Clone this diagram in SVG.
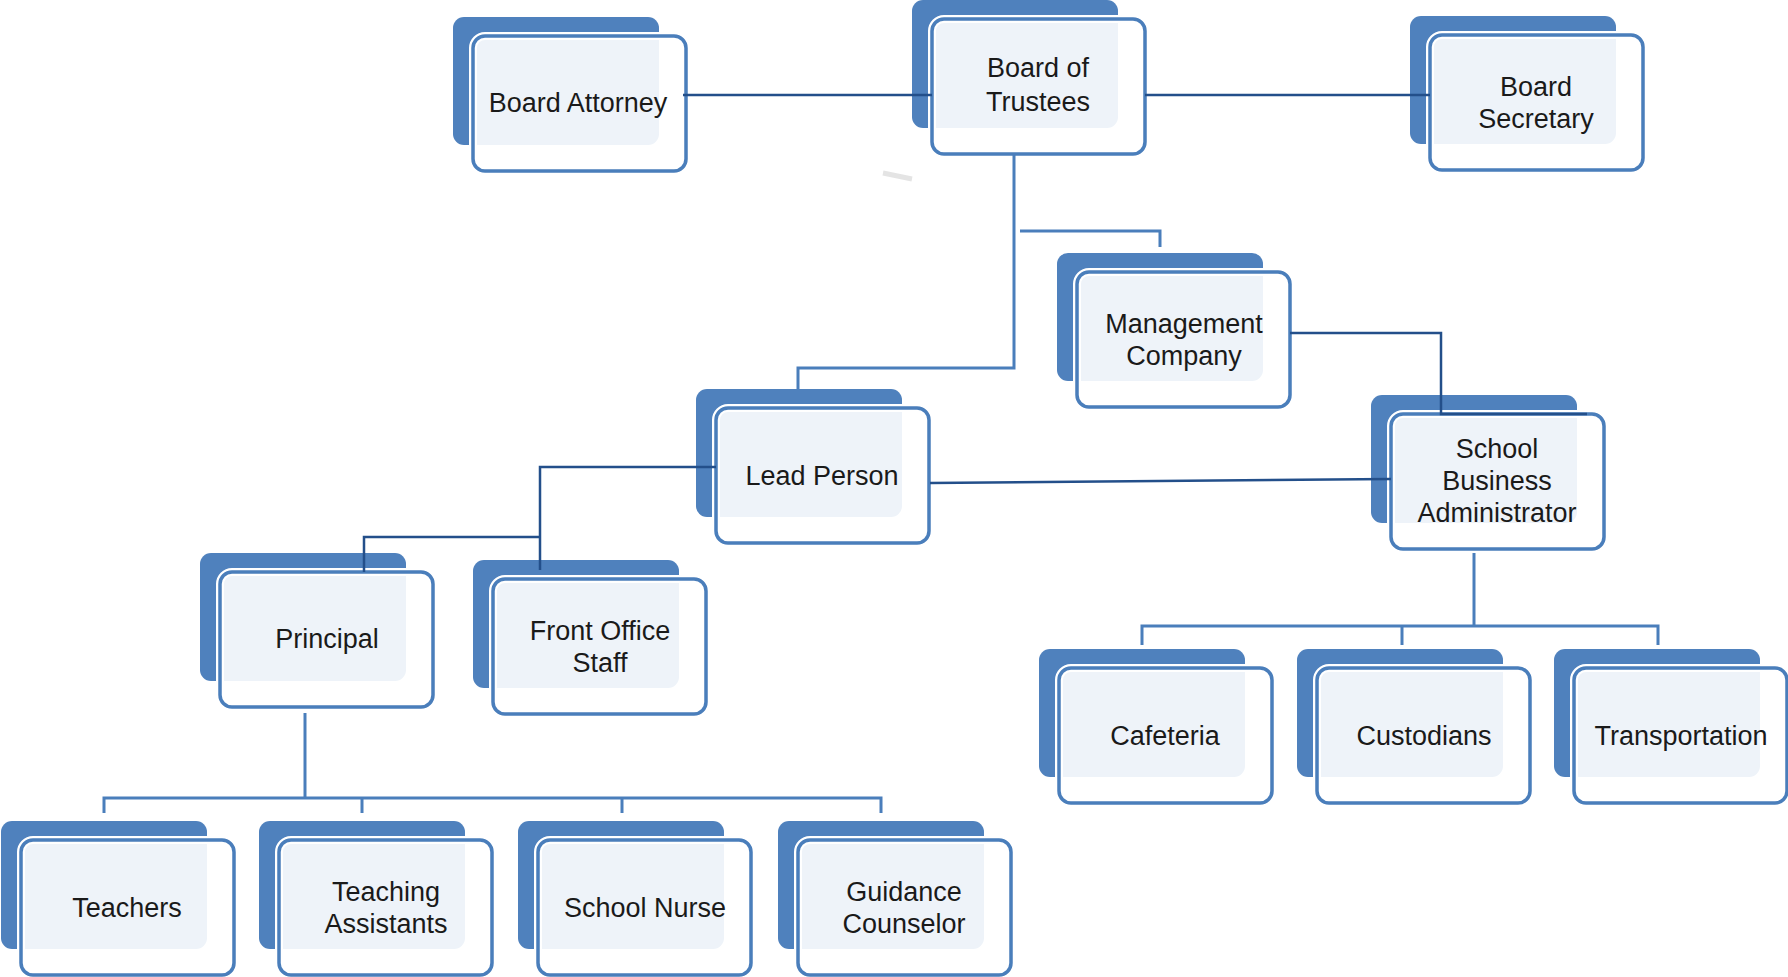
<svg xmlns="http://www.w3.org/2000/svg" width="1788" height="977" viewBox="0 0 1788 977">
<style>
.back{fill:#4f81bd}
.halo{fill:#ffffff;fill-opacity:0.9;stroke:#ffffff;stroke-width:8}
.front{fill:none;stroke:#4a7ebb;stroke-width:3.5}
.t{font-family:"Liberation Sans",Arial,sans-serif;font-size:27px;fill:#1a1a1a;text-anchor:middle}
.dark{fill:none;stroke:#234f8a;stroke-width:2.5}
.lite{fill:none;stroke:#4a7ebb;stroke-width:3}
</style>
<defs>
<g id="card">
<rect class="back" x="-20" y="-19" width="206" height="128" rx="11"/>
<rect class="halo" x="0" y="0" width="213" height="135" rx="12"/>
<rect class="front" x="0" y="0" width="213" height="135" rx="12"/>
</g>
</defs>
<rect width="1788" height="977" fill="#ffffff"/>
<line x1="883" y1="173" x2="912" y2="179" stroke="#e4e4e4" stroke-width="5"/>
<g id="n-attorney"><use href="#card" x="473" y="36"/><text class="t" x="578" y="112">Board Attorney</text></g>
<g id="n-trustees"><use href="#card" x="932" y="19"/><text class="t" x="1038" y="77">Board of</text><text class="t" x="1038" y="111">Trustees</text></g>
<g id="n-secretary"><use href="#card" x="1430" y="35"/><text class="t" x="1536" y="96">Board</text><text class="t" x="1536" y="128">Secretary</text></g>
<g id="n-management"><use href="#card" x="1077" y="272"/><text class="t" x="1184" y="333">Management</text><text class="t" x="1184" y="365">Company</text></g>
<g id="n-lead"><use href="#card" x="716" y="408"/><text class="t" x="822" y="485">Lead Person</text></g>
<g id="n-sba"><use href="#card" x="1391" y="414"/><text class="t" x="1497" y="458">School</text><text class="t" x="1497" y="490">Business</text><text class="t" x="1497" y="522">Administrator</text></g>
<g id="n-principal"><use href="#card" x="220" y="572"/><text class="t" x="327" y="648">Principal</text></g>
<g id="n-frontoffice"><use href="#card" x="493" y="579"/><text class="t" x="600" y="640">Front Office</text><text class="t" x="600" y="672">Staff</text></g>
<g id="n-cafeteria"><use href="#card" x="1059" y="668"/><text class="t" x="1165" y="745">Cafeteria</text></g>
<g id="n-custodians"><use href="#card" x="1317" y="668"/><text class="t" x="1424" y="745">Custodians</text></g>
<g id="n-transportation"><use href="#card" x="1574" y="668"/><text class="t" x="1681" y="745">Transportation</text></g>
<g id="n-teachers"><use href="#card" x="21" y="840"/><text class="t" x="127" y="917">Teachers</text></g>
<g id="n-assistants"><use href="#card" x="279" y="840"/><text class="t" x="386" y="901">Teaching</text><text class="t" x="386" y="933">Assistants</text></g>
<g id="n-nurse"><use href="#card" x="538" y="840"/><text class="t" x="645" y="917">School Nurse</text></g>
<g id="n-counselor"><use href="#card" x="798" y="840"/><text class="t" x="904" y="901">Guidance</text><text class="t" x="904" y="933">Counselor</text></g>
<g id="connectors">
<path class="dark" d="M683,95 H932"/>
<path class="dark" d="M1145,95 H1430"/>
<path class="dark" d="M716,467 H540 V570"/>
<path class="dark" d="M540,537 H364 V572"/>
<path class="dark" d="M930,483 L1391,479"/>
<path class="dark" d="M1290,333 H1441 V414 H1587"/>
<path class="lite" d="M1014,155 V368 H798 V389"/>
<path class="lite" d="M1020,231 H1160 V247"/>
<path class="lite" d="M305,713 V798"/>
<path class="lite" d="M104,813 V798 H881 V813"/>
<path class="lite" d="M362,798 V813"/>
<path class="lite" d="M622,798 V813"/>
<path class="lite" d="M1474,553 V626"/>
<path class="lite" d="M1142,645 V626 H1658 V645"/>
<path class="lite" d="M1402,626 V645"/>
</g>
</svg>
